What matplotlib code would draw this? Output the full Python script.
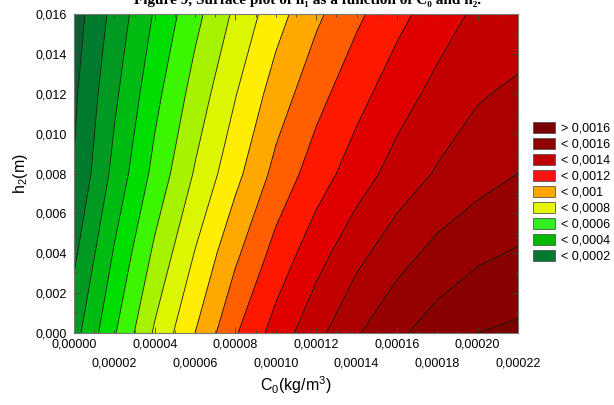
import matplotlib
matplotlib.use("Agg")
import matplotlib.pyplot as plt
from matplotlib.patches import Patch
from matplotlib.ticker import MultipleLocator
import numpy as np

plt.rcParams['font.family'] = ['Liberation Sans', 'DejaVu Sans']
plt.rcParams['mathtext.fontset'] = 'custom'
plt.rcParams['mathtext.rm'] = 'Liberation Sans'
plt.rcParams['mathtext.it'] = 'Liberation Sans:italic'

# ---- data ----
c0 = [0.0, 0.00002, 0.00004, 0.00006, 0.00008, 0.00010, 0.00012,
      0.00014, 0.00016, 0.00018, 0.00020, 0.00022]
h2 = [0.0, 0.004, 0.008, 0.012, 0.016]
h1_row_0000 = [0.00026, 0.00049, 0.000714, 0.00090, 0.00109, 0.00124, 0.00137, 0.00149, 0.00158, 0.00165, 0.00170, 0.00172]
h1_row_0004 = [0.00018, 0.00041, 0.00062, 0.000805, 0.00098, 0.001135, 0.00126, 0.00137, 0.00146, 0.00153, 0.00158, 0.00161]
h1_row_0008 = [0.000105, 0.00033, 0.00053, 0.00071, 0.00087, 0.00103, 0.00115, 0.00125, 0.00134, 0.00141, 0.00146, 0.00150]
h1_row_0012 = [0.000082, 0.00028, 0.00047, 0.00064, 0.000795, 0.000945, 0.001065, 0.001165, 0.001255, 0.00133, 0.00139, 0.00142]
h1_row_0016 = [0.00005, 0.000234, 0.00041, 0.00057, 0.00072, 0.00086, 0.00098, 0.00108, 0.00117, 0.00125, 0.00132, 0.00134]

line_levels = [0.0001, 0.0002, 0.0003, 0.0004, 0.0005, 0.0006, 0.0007, 0.0008, 0.0009,
               0.0010, 0.0011, 0.0012, 0.0013, 0.0014, 0.0015, 0.0016, 0.0017]
band_colors = ['#0b5e33', '#007a2c', '#009a22', '#00bb12', '#00dd00', '#3cf500',
               '#a6f200', '#dcf500', '#ffee00', '#ffa800', '#ff5f00', '#ff1800',
               '#e00000', '#c20000', '#aa0000', '#960000', '#880000', '#7a0000']

legend_labels = ['> 0,0016', '< 0,0016', '< 0,0014', '< 0,0012', '< 0,001',
                 '< 0,0008', '< 0,0006', '< 0,0004', '< 0,0002']
legend_colors = ['#7a0000', '#8c0000', '#c00000', '#ff1010', '#ffa500',
                 '#e6f500', '#33ee22', '#00b800', '#007a30']

x_ticks_even = [0.0, 0.00004, 0.00008, 0.00012, 0.00016, 0.00020]
x_labels_even = ['0,00000', '0,00004', '0,00008', '0,00012', '0,00016', '0,00020']
x_ticks_odd = [0.00002, 0.00006, 0.00010, 0.00014, 0.00018, 0.00022]
x_labels_odd = ['0,00002', '0,00006', '0,00010', '0,00014', '0,00018', '0,00022']
y_ticks = [0.0, 0.002, 0.004, 0.006, 0.008, 0.010, 0.012, 0.014, 0.016]
y_ticklabels = ['0,000', '0,002', '0,004', '0,006', '0,008', '0,010', '0,012', '0,014', '0,016']

# ---- figure ----
fig = plt.figure(figsize=(6.14, 4.05), dpi=100)
ax = fig.add_axes([74/614, 1-333/405, 444/614, 319/405])

Z = np.array([h1_row_0000, h1_row_0004, h1_row_0008, h1_row_0012, h1_row_0016])
X, Y = np.meshgrid(c0, h2)
fill_levels = [-1.0] + line_levels + [1.0]
ax.contourf(X, Y, Z, levels=fill_levels, colors=band_colors)
ax.contour(X, Y, Z, levels=line_levels, colors='#1a1a1a', linewidths=0.6)

ax.set_xlim(0, 0.00022)
ax.set_ylim(0, 0.016)
ax.set_xticks(x_ticks_even)
ax.set_xticklabels(x_labels_even, fontsize=9)
ax.set_yticks(y_ticks)
ax.set_yticklabels(y_ticklabels, fontsize=9)
ax.xaxis.set_minor_locator(MultipleLocator(0.00001))
ax.yaxis.set_minor_locator(MultipleLocator(0.001))
ax.tick_params(which='both', direction='in', top=True, right=True, colors='#444444',
               labelcolor='black')
ax.tick_params(which='major', length=4, width=0.6)
ax.tick_params(which='minor', length=2.5, width=0.6)
ax.tick_params(axis='x', pad=4)
ax.tick_params(axis='y', pad=5)
for s in ax.spines.values():
    s.set_color('#777777')
    s.set_linewidth(0.8)

sec = ax.secondary_xaxis('bottom')
sec.set_xticks(x_ticks_odd)
sec.set_xticklabels(x_labels_odd, fontsize=9)
sec.tick_params(length=0, pad=18)
sec.spines['bottom'].set_visible(False)

sec.set_xlabel(r'C$\mathregular{_0}$(kg/m$\mathregular{^3}$)', fontsize=11.5, labelpad=3)
ax.set_ylabel(r'h$\mathregular{_2}$(m)', fontsize=11.5, labelpad=4)

handles = [Patch(facecolor=c, edgecolor='#555555', linewidth=0.6) for c in legend_colors]
fig.legend(handles, legend_labels, loc='upper left', bbox_to_anchor=(528/614, 1-117/405),
           frameon=False, fontsize=9, handlelength=1.75, handleheight=1.0,
           labelspacing=0.25, handletextpad=0.5, borderaxespad=0)

fig.text(0.5, 1-4/405, 'Figure 9, Surface plot of h₁ as a function of C₀ and h₂.',
         ha='center', va='baseline', fontsize=11, fontweight='bold',
         family=['Liberation Serif', 'DejaVu Serif'])

fig.savefig('out.png', dpi=100)
